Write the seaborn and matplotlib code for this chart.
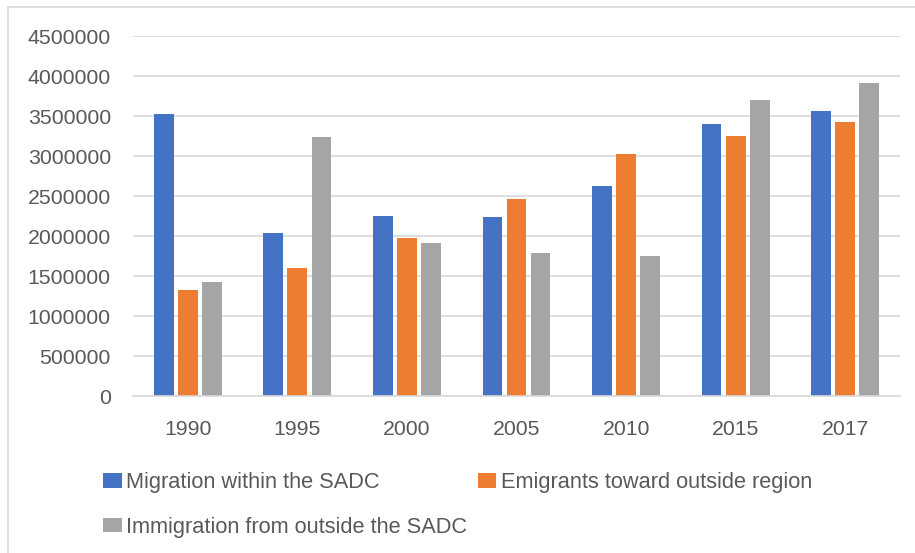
import pandas as pd
import seaborn as sns
import matplotlib.pyplot as plt
from matplotlib.patches import Patch
from matplotlib.lines import Line2D

# Values
years = ["1990", "1995", "2000", "2005", "2010", "2015", "2017"]
within_sadc = [3525000, 2040000, 2245000, 2237000, 2630000, 3397000, 3560000]
emigrants_outside = [1319000, 1598000, 1974000, 2467000, 3026000, 3247000, 3427000]
immigration_outside = [1419000, 3243000, 1907000, 1786000, 1753000, 3694000, 3915000]

series_names = ["Migration within the SADC",
                "Emigrants toward outside region",
                "Immigration from outside the SADC"]
colors = ["#4472C4", "#ED7D31", "#A5A5A5"]

# Long-form table for seaborn
df = pd.DataFrame({
    "year": years * 3,
    "value": within_sadc + emigrants_outside + immigration_outside,
    "series": [series_names[0]] * 7 + [series_names[1]] * 7 + [series_names[2]] * 7,
})

sns.set_style("white")
plt.rcParams["font.family"] = ["Liberation Sans", "DejaVu Sans"]
text_color = "#595959"
grid_color = "#D9D9D9"

fig = plt.figure(figsize=(9.15, 5.53), dpi=100)
ax = fig.add_axes([133 / 915, 1 - 396 / 553, (900 - 133) / 915, 360 / 553])

sns.barplot(data=df, x="year", y="value", hue="series", order=years,
            hue_order=series_names, palette=colors, width=0.66, gap=0.18,
            saturation=1, linewidth=0, ax=ax, legend=False)

ax.set_ylim(0, 4500000)
ax.set_yticks(range(0, 4500001, 500000))
ax.set_yticklabels([str(v) for v in range(0, 4500001, 500000)])
ax.set_xlim(-0.5, len(years) - 0.5)
ax.set_xlabel("")
ax.set_ylabel("")
ax.yaxis.grid(True, color=grid_color, linewidth=1.2)
ax.set_axisbelow(True)
for side in ["top", "right", "left"]:
    ax.spines[side].set_visible(False)
ax.spines["bottom"].set_color(grid_color)
ax.spines["bottom"].set_linewidth(1.2)
ax.tick_params(axis="both", length=0, labelsize=15.3, colors=text_color)
ax.tick_params(axis="y", pad=16)
ax.tick_params(axis="x", pad=17)

# Legend laid out row by row like the original
handles = [Patch(facecolor=c, edgecolor="none") for c in colors]
order = [0, 2, 1]
leg = fig.legend([handles[i] for i in order], [series_names[i] for i in order],
                 ncol=2, loc="upper left", bbox_to_anchor=(103 / 915, 1 - 472 / 553),
                 frameon=False, fontsize=15.7, handlelength=0.85, handleheight=0.65,
                 handletextpad=0.2, columnspacing=0.5, labelspacing=1.08,
                 borderpad=0, borderaxespad=0)
for t in leg.get_texts():
    t.set_color(text_color)

# Light chart-area border (left and top visible in the reference)
fig.add_artist(Line2D([8 / 915, 8 / 915], [0, 1 - 7 / 553], transform=fig.transFigure,
                      color=grid_color, linewidth=1.2))
fig.add_artist(Line2D([8 / 915, 1], [1 - 7 / 553, 1 - 7 / 553], transform=fig.transFigure,
                      color=grid_color, linewidth=1.2))

fig.savefig("out.png", dpi=100)
